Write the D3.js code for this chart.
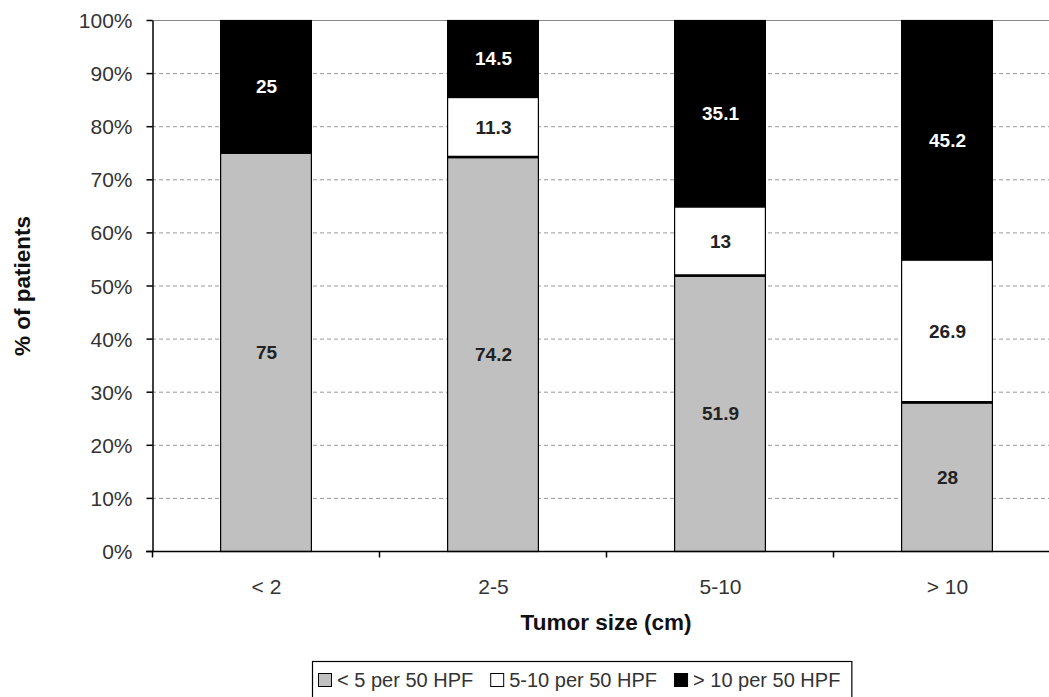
<!DOCTYPE html>
<html><head><meta charset="utf-8">
<script src="https://cdn.jsdelivr.net/npm/d3@7"></script>
<style>body{margin:0;background:#fff;font-family:Arial,"Liberation Sans",sans-serif;}</style>
</head><body><svg id="c" width="1049" height="697"></svg>
<script>
const categories = ["< 2", "2-5", "5-10", "> 10"];
const seriesNames = ["< 5 per 50 HPF", "5-10 per 50 HPF", "> 10 per 50 HPF"];
const low = [75, 74.2, 51.9, 28];
const mid = [0, 11.3, 13, 26.9];
const high = [25, 14.5, 35.1, 45.2];
const yTicks = [0,10,20,30,40,50,60,70,80,90,100];
const colors = ["#c0c0c0", "#ffffff", "#000000"];
const labelColors = ["#222", "#222", "#fff"];

const svg = d3.select("#c");
const m = {left:152, top:20, right:1060, bottom:551};
const x = d3.scaleBand().domain(categories).range([m.left, m.right]).paddingInner(0.6).paddingOuter(0.3);
const y = d3.scaleLinear().domain([0,100]).range([m.bottom, m.top]);

// gridlines
svg.append("g").selectAll("line").data(yTicks.filter(t=>t>0)).join("line")
  .attr("x1", m.left).attr("x2", 1049)
  .attr("y1", d=>y(d)+0.5).attr("y2", d=>y(d)+0.5)
  .attr("stroke", d=> d===100 ? "#888" : "#999")
  .attr("stroke-width", 1)
  .attr("stroke-dasharray", d=> d===100 ? null : "4,3");

const data = categories.map((c,i)=>({cat:c, vals:[low[i], mid[i], high[i]]}));
const stack = [];
data.forEach(d=>{
  let acc=0;
  d.vals.forEach((v,k)=>{ stack.push({cat:d.cat, k, y0:acc, y1:acc+v, v}); acc+=v; });
});
const segs = stack.filter(s=>s.v>0);
svg.append("g").selectAll("rect").data(segs).join("rect")
  .attr("x", d=>x(d.cat)+0.5).attr("width", x.bandwidth())
  .attr("y", d=>y(Math.min(d.y1,100))+0.5).attr("height", d=>y(d.y0)-y(Math.min(d.y1,100)))
  .attr("fill", d=>colors[d.k]).attr("stroke", "#000").attr("stroke-width", 1.2);
// thicker boundary between gray and white
svg.append("g").selectAll("line").data(segs.filter(s=>s.k===1)).join("line")
  .attr("x1", d=>x(d.cat)).attr("x2", d=>x(d.cat)+x.bandwidth()+1)
  .attr("y1", d=>y(d.y0)).attr("y2", d=>y(d.y0))
  .attr("stroke", "#000").attr("stroke-width", 2.5);

svg.append("g").selectAll("text").data(segs).join("text")
  .attr("x", d=>x(d.cat)+x.bandwidth()/2+1)
  .attr("y", d=>y((d.y0+Math.min(d.y1,100))/2)+7)
  .attr("text-anchor","middle").attr("font-size", 19).attr("font-weight","bold")
  .attr("fill", d=>labelColors[d.k]).text(d=>String(d.v));

// axes
const yAxis = svg.append("g").attr("transform", `translate(${m.left+0.5},0)`)
  .call(d3.axisLeft(y).tickValues(yTicks).tickFormat(d=>d+"%").tickSize(6).tickSizeOuter(0).tickPadding(14));
yAxis.select(".domain").attr("stroke","#000").attr("stroke-width",1.5);
yAxis.selectAll(".tick line").attr("stroke","#000").attr("stroke-width",1.5);
yAxis.selectAll("text").attr("font-size",21).attr("font-family","Arial, Liberation Sans, sans-serif").attr("fill","#333").attr("dy","0.36em");

const xb = svg.append("g").attr("transform", `translate(0,${m.bottom+0.5})`);
xb.append("line").attr("x1", m.left-6).attr("x2", 1049).attr("stroke","#000").attr("stroke-width",1.5);
const bounds = categories.map((c,i)=>m.left + i*(m.right-m.left)/categories.length);
xb.selectAll(".tk").data(bounds).join("line").attr("class","tk")
  .attr("x1", d=>d+0.5).attr("x2", d=>d+0.5).attr("y1",0).attr("y2",6)
  .attr("stroke","#000").attr("stroke-width",1.5);
xb.selectAll("text").data(categories).join("text")
  .attr("x", d=>x(d)+x.bandwidth()/2+1).attr("y", 42)
  .attr("text-anchor","middle").attr("font-size",21).attr("fill","#333").text(d=>d);

svg.append("text").attr("x", 606).attr("y", 630).attr("text-anchor","middle")
  .attr("font-size",22.5).attr("font-weight","bold").attr("fill","#111").text("Tumor size (cm)");
svg.append("text").attr("transform","translate(30,286) rotate(-90)").attr("text-anchor","middle")
  .attr("font-size",22.5).attr("font-weight","bold").attr("fill","#111").text("% of patients");

// legend
const lg = svg.append("g");
const box = lg.append("rect").attr("y",661.5).attr("height",50)
  .attr("fill","#fff").attr("stroke","#000").attr("stroke-width",1.2);
let cx = 318;
const startX = cx;
seriesNames.forEach((n,i)=>{
  lg.append("rect").attr("x",cx+0.5).attr("y",673.5).attr("width",13).attr("height",13)
    .attr("fill",colors[i]).attr("stroke","#000").attr("stroke-width",1);
  const t = lg.append("text").attr("x",cx+19).attr("y",687).attr("font-size",20).attr("fill","#333").text(n);
  cx += 19 + t.node().getComputedTextLength() + 17;
});
box.attr("x", startX-5.5).attr("width", cx - startX);
</script></body></html>
